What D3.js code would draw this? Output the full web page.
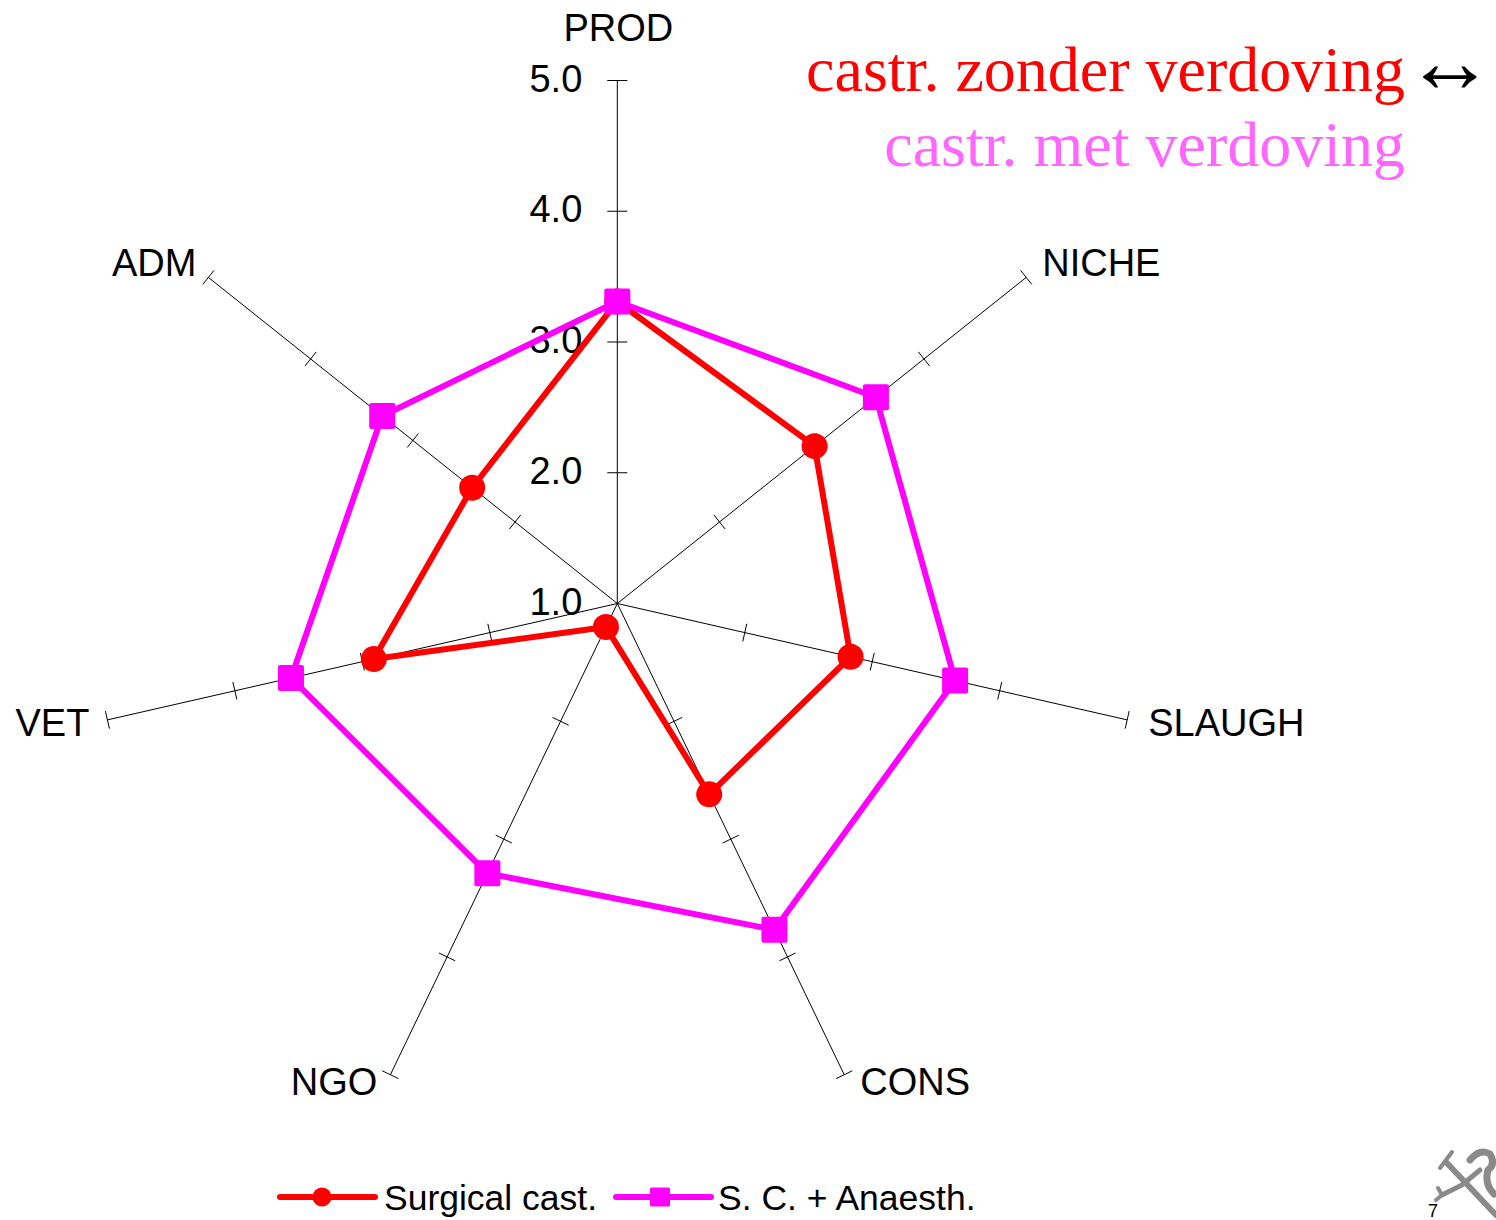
<!DOCTYPE html>
<html>
<head>
<meta charset="utf-8">
<script src="https://cdn.jsdelivr.net/npm/d3@7"></script>
<style>
  html, body { margin: 0; padding: 0; background: #fff; }
  svg { display: block; }
</style>
</head>
<body>
<svg id="chart" width="1496" height="1220"></svg>
<script>
// ---- data ----
const categories = ["PROD", "NICHE", "SLAUGH", "CONS", "NGO", "VET", "ADM"];
const surgicalCast = [3.31, 2.93, 2.83, 2.62, 1.20, 2.91, 2.42];
const scAnaesth = [3.31, 3.53, 3.65, 3.77, 3.29, 3.56, 3.30];
const tickValues = [1, 2, 3, 4, 5];
const tickLabels = ["1.0", "2.0", "3.0", "4.0", "5.0"];
const seriesNames = ["Surgical cast.", "S. C. + Anaesth."];
const titleLine1 = "castr. zonder verdoving";
const titleArrow = "\u2194";
const titleLine2 = "castr. met verdoving";

// ---- layout ----
const svg = d3.select("#chart");
const cx = 617.3, cy = 603.5, R = 523;
const rScale = d3.scaleLinear().domain([1, 5]).range([0, R]);
const n = categories.length;
const angle = i => i * 2 * Math.PI / n;
const pt = (i, v) => [cx + rScale(v) * Math.sin(angle(i)), cy - rScale(v) * Math.cos(angle(i))];

const axisFont = "Liberation Sans, Arial, Helvetica, sans-serif";

// axes
const gAxes = svg.append("g");
categories.forEach((c, i) => {
  const [x1, y1] = pt(i, 1), [x2, y2] = pt(i, 5);
  gAxes.append("line").attr("x1", x1).attr("y1", y1).attr("x2", x2).attr("y2", y2)
    .attr("stroke", "#000").attr("stroke-width", 1);
  const a = angle(i);
  tickValues.filter(v => v > 1).forEach(v => {
    const [tx, ty] = pt(i, v);
    const h = i === 0 ? 10 : 9;
    const px = Math.cos(a) * h, py = Math.sin(a) * h; // perpendicular
    gAxes.append("line")
      .attr("x1", tx - px).attr("y1", ty - py)
      .attr("x2", tx + px).attr("y2", ty + py)
      .attr("stroke", "#000").attr("stroke-width", 1);
  });
});

// tick labels on PROD axis
tickValues.forEach((v, k) => {
  const [tx, ty] = pt(0, v);
  svg.append("text").attr("x", tx - 35).attr("y", ty + 11)
    .attr("text-anchor", "end").attr("font-family", axisFont).attr("font-size", 38)
    .attr("fill", "#000").text(tickLabels[k]);
});

// category labels
categories.forEach((c, i) => {
  const [ex, ey] = pt(i, 5);
  const s = Math.sin(angle(i)), co = Math.cos(angle(i));
  let x = ex, y, anchor;
  if (Math.abs(s) < 0.1) { anchor = "middle"; y = ey - 40; x = ex + 1; }
  else {
    anchor = s > 0 ? "start" : "end";
    if (co > 0.5) { x = ex + (s > 0 ? 16 : -12); y = ey - 1; }
    else if (co > -0.5) { x = ex + (s > 0 ? 21 : -18); y = ey + 16; }
    else { x = ex + (s > 0 ? 16 : -13); y = ey + 20; }
  }
  svg.append("text").attr("x", x).attr("y", y).attr("text-anchor", anchor)
    .attr("font-family", axisFont).attr("font-size", 38).attr("fill", "#000").text(c);
});

// series
const series = [
  { name: seriesNames[0], values: surgicalCast, color: "#ff0000", marker: "circle" },
  { name: seriesNames[1], values: scAnaesth, color: "#ff00ff", marker: "square" }
];
const line = d3.line().curve(d3.curveLinearClosed);
series.forEach(s => {
  const pts = s.values.map((v, i) => pt(i, v));
  svg.append("path").attr("d", line(pts)).attr("fill", "none")
    .attr("stroke", s.color).attr("stroke-width", 6).attr("stroke-linejoin", "round");
  pts.forEach(([x, y]) => {
    if (s.marker === "circle") {
      svg.append("circle").attr("cx", x).attr("cy", y).attr("r", 13).attr("fill", s.color);
    } else {
      svg.append("rect").attr("x", x - 13).attr("y", y - 13).attr("width", 26).attr("height", 26)
        .attr("rx", 2).attr("fill", s.color);
    }
  });
});

// legend
const legendY = 1197;
const legendItems = [
  { x0: 280, x1: 375, mx: 322, tx: 384 },
  { x0: 616, x1: 711, mx: 660, tx: 718 }
];
series.forEach((s, k) => {
  const L = legendItems[k];
  svg.append("line").attr("x1", L.x0).attr("y1", legendY).attr("x2", L.x1).attr("y2", legendY)
    .attr("stroke", s.color).attr("stroke-width", 6).attr("stroke-linecap", "round");
  if (s.marker === "circle") {
    svg.append("circle").attr("cx", L.mx).attr("cy", legendY).attr("r", 9.5).attr("fill", s.color);
  } else {
    svg.append("rect").attr("x", L.mx - 10).attr("y", legendY - 9.5).attr("width", 20).attr("height", 19)
      .attr("rx", 1.5).attr("fill", s.color);
  }
  svg.append("text").attr("x", L.tx).attr("y", legendY + 13).attr("font-family", axisFont)
    .attr("font-size", 35.5).attr("fill", "#000").text(s.name);
});

// title
const serif = "Liberation Serif, Times New Roman, serif";
svg.append("text").attr("x", 1405).attr("y", 91).attr("text-anchor", "end")
  .attr("font-family", serif).attr("font-size", 64).attr("fill", "#ff0000").text(titleLine1);
svg.append("text").attr("x", 1405).attr("y", 92).attr("text-anchor", "start")
  .attr("font-family", serif).attr("font-size", 90).attr("fill", "#000").text(titleArrow);
svg.append("text").attr("x", 1405).attr("y", 166).attr("text-anchor", "end")
  .attr("font-family", serif).attr("font-size", 64).attr("fill", "#ff66ff").text(titleLine2);

// page number + logo mark
svg.append("text").attr("x", 1428).attr("y", 1217).attr("font-family", axisFont)
  .attr("font-size", 18).attr("fill", "#000").text("7");
const logo = svg.append("g").attr("stroke", "#8a8a8a").attr("fill", "none").attr("stroke-linecap", "round");
logo.append("path").attr("d", "M1446,1162 L1496,1215").attr("stroke-width", 6);
logo.append("path").attr("d", "M1442,1195 L1462,1185 L1480,1170").attr("stroke-width", 5);
logo.append("path").attr("d", "M1446,1160 L1440,1168 M1446,1160 L1452,1152").attr("stroke-width", 4);
logo.append("path").attr("d", "M1442,1195 L1438,1188 M1442,1195 L1436,1200").attr("stroke-width", 4);
logo.append("path").attr("d", "M1470,1160 q10,-12 20,-6 q6,10 -2,16 q-4,14 6,24").attr("stroke-width", 7);
</script>
</body>
</html>
